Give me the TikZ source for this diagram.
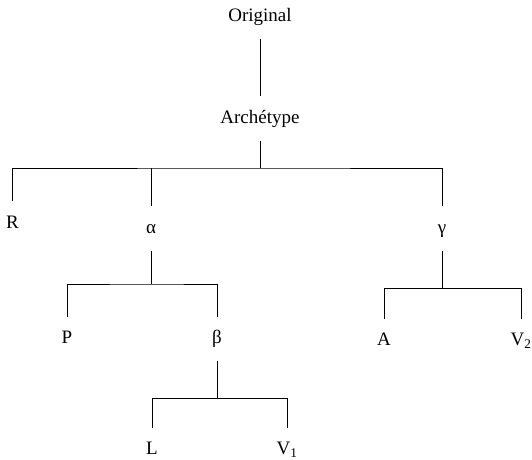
\documentclass[tikz,border=0pt]{standalone}
\usepackage{fontspec}
\setmainfont{Liberation Serif}

\begin{document}
\begin{tikzpicture}[x=1pt, y=-1pt, every node/.style = {shape=rectangle, align=center, inner sep=0pt, text height=13pt, text depth=4pt, minimum height=44pt, font=\fontsize{19}{22}\selectfont}, stem/.style={line width=0.6pt}]
  \useasboundingbox (0,0) rectangle (532,459);
  % witnesses
  \node (orig) at (260,16.5) {Original};
  \node (arch) at (260,118.5) {Archétype};
  \node (R) at (12.5,223.5) {R};
  \node (alpha) at (151,228.5) {α};
  \node (gamma) at (442,228.5) {γ};
  \node (P) at (67,339) {P};
  \node (beta) at (217,339) {β};
  \node (A) at (384,341) {A};
  \node (V2) at (521,341) {V\textsubscript{2}};
  \node (L) at (152,450) {L};
  \node (V1) at (287,450) {V\textsubscript{1}};
  % junctions
  \coordinate (j0) at (260,168);
  \coordinate (j1) at (151,284);
  \coordinate (j2) at (217,398);
  \coordinate (j3) at (442,288);
  % stems
  \draw[stem] (orig) -- (arch);
  \draw[stem] (arch.south) -- (j0);
  \draw[stem] (R.north) |- (j0) -| (gamma.north);
  \draw[stem] (alpha.north) -- (alpha.north |- j0);
  \draw[stem] (alpha.south) -- (j1);
  \draw[stem] (P.north) |- (j1) -| (beta.north);
  \draw[stem] (beta.south) -- (j2);
  \draw[stem] (L.north) |- (j2) -| (V1.north);
  \draw[stem] (gamma.south) -- (j3);
  \draw[stem] (A.north) |- (j3) -| (V2.north);
\end{tikzpicture}
\end{document}
